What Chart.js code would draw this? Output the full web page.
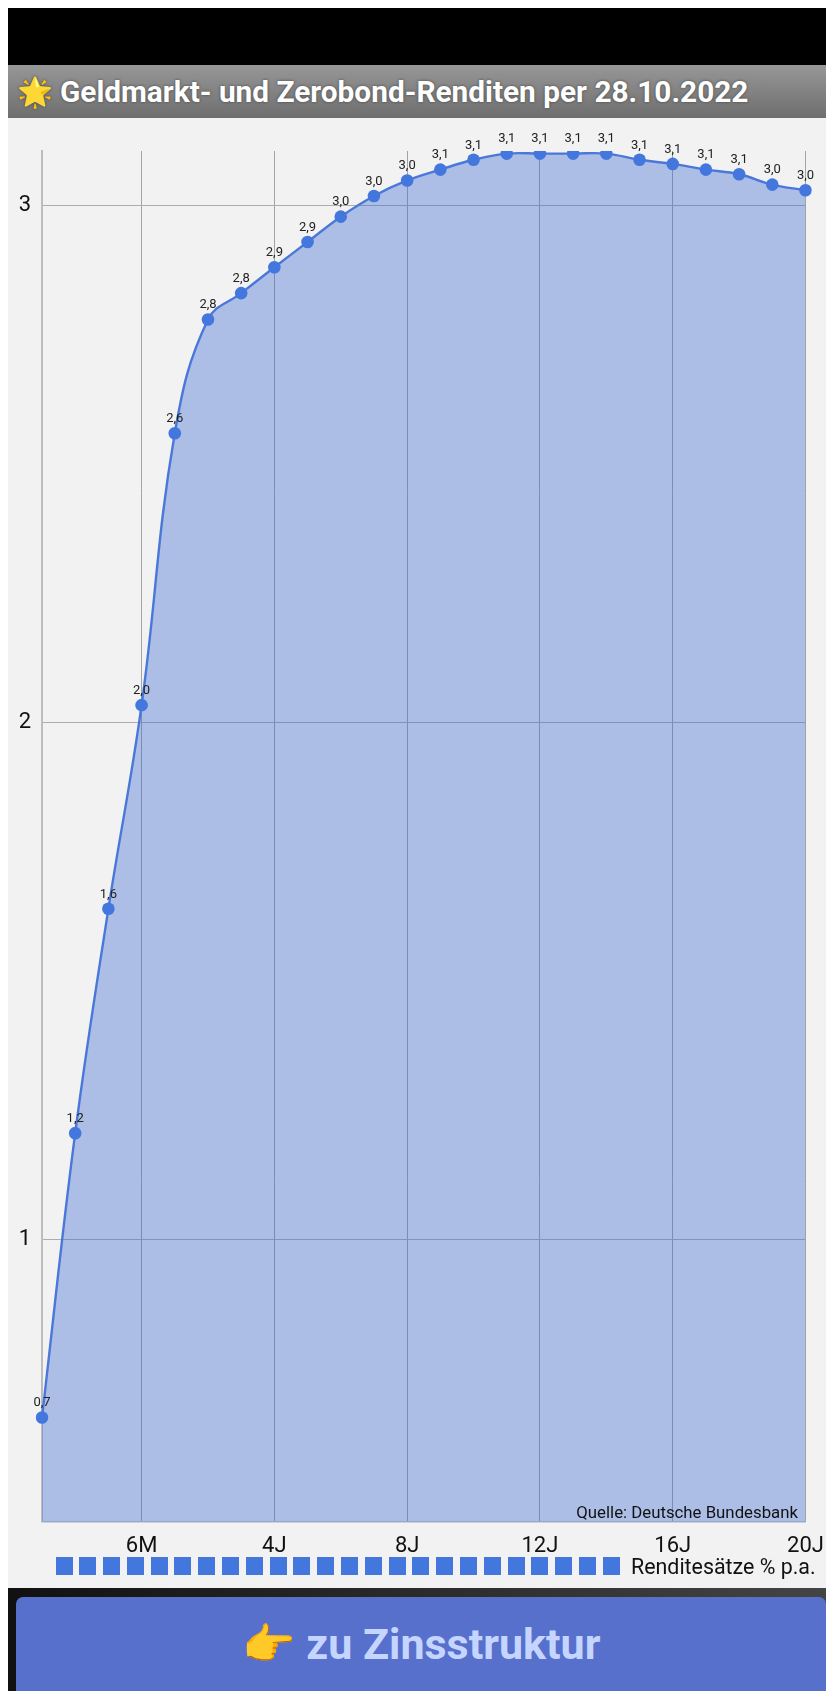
<!DOCTYPE html>
<html lang="de">
<head>
<meta charset="utf-8">
<title>Geldmarkt- und Zerobond-Renditen</title>
<script src="https://cdn.jsdelivr.net/npm/chart.js@4"></script>
<style>
    html, body { margin: 0; padding: 0; background: #fff; }
    body { position: relative; width: 826px; height: 1691px; overflow: hidden; font-family: Roboto, sans-serif; }
    .top-black { position: absolute; left: 8px; top: 8px; right: 0; height: 57px; background: #000; }
    .header { position: absolute; left: 8px; top: 65px; right: 0; height: 53px; background: linear-gradient(#979797, #6e6e6e);
        color: #fff; font-weight: 700; font-size: 29.8px; line-height: 54px; white-space: nowrap; text-shadow: 0 0 3px #444; }
    .header .emoji { position: absolute; left: 9px; top: 0; font-size: 29px; }
    .header .txt { position: absolute; left: 52px; top: 0; }
    .chart-box { position: absolute; left: 8px; top: 118px; width: 818px; height: 1470px; background: #f2f2f2; }
    canvas { display: block; }
    .source { position: absolute; right: 28px; top: 1383px; font-size: 16.8px; line-height: 22px; color: #111; white-space: nowrap; }
    .legend { position: absolute; left: 47.5px; top: 1439px; display: flex; gap: 6.8px; }
    .legend i { display: block; width: 17px; height: 18px; background: #4477dd; }
    .legend-text { position: absolute; left: 623px; top: 1437px; font-size: 21.4px; line-height: 24px; color: #111; white-space: nowrap; }
    .footer { position: absolute; left: 8px; top: 1588px; right: 0; bottom: 0; background: linear-gradient(90deg, #111, #444); }
    .btn-zins { position: absolute; left: 8px; top: 9px; right: 0; bottom: 0; background: #5670cc; border-radius: 7px 7px 0 0;
        color: #c5d5ff; font-weight: 700; font-size: 43px; text-align: center; line-height: 94px; white-space: nowrap; }
</style>
</head>
<body>
<div class="top-black"></div>
<div class="header"><span class="emoji">🌟</span><span class="txt">Geldmarkt- und Zerobond-Renditen per 28.10.2022</span></div>
<div class="chart-box">
    <canvas id="zinsChart" width="818" height="1470"></canvas>
    <div class="source">Quelle: Deutsche Bundesbank</div>
    <div class="legend" id="legend"></div>
    <div class="legend-text">Renditesätze % p.a.</div>
</div>
<div class="footer"><div class="btn-zins">👉 zu Zinsstruktur</div></div>

<script>
const laufzeiten = ['1W', '1M', '3M', '6M', '1J', '2J', '3J', '4J', '5J', '6J', '7J', '8J', '9J', '10J', '11J', '12J', '13J', '14J', '15J', '16J', '17J', '18J', '19J', '20J'];
const renditen = [0.656, 1.206, 1.64, 2.034, 2.56, 2.78, 2.831, 2.881, 2.93, 2.979, 3.019, 3.049, 3.07, 3.089, 3.101, 3.101, 3.101, 3.101, 3.089, 3.081, 3.07, 3.061, 3.041, 3.03];
const xBeschriftung = ['6M', '4J', '8J', '12J', '16J', '20J'];
const yBeschriftung = [1, 2, 3];
const serienName = 'Renditesätze % p.a.';

// Werte direkt über die Punkte schreiben
const punktLabels = {
    id: 'punktLabels',
    afterDatasetsDraw(chart) {
        const ctx = chart.ctx;
        const meta = chart.getDatasetMeta(0);
        ctx.save();
        ctx.font = '13px Roboto';
        ctx.fillStyle = '#222';
        ctx.textAlign = 'center';
        ctx.textBaseline = 'middle';
        meta.data.forEach((pt, i) => {
            ctx.fillText(renditen[i].toFixed(1).replace('.', ','), pt.x, pt.y - 14.5);
        });
        ctx.restore();
    }
};

const ctx = document.getElementById('zinsChart').getContext('2d');
new Chart(ctx, {
    type: 'line',
    data: {
        labels: laufzeiten,
        datasets: [{
            label: serienName,
            data: renditen,
            borderColor: '#4a78d8',
            borderWidth: 2.4,
            backgroundColor: 'rgba(60,105,210,0.38)',
            fill: 'start',
            tension: 0.4,
            pointRadius: 6.3,
            pointBackgroundColor: '#4477dd',
            pointBorderWidth: 0
        }]
    },
    options: {
        responsive: false,
        animation: false,
        layout: { padding: { top: 33, right: 20.5, bottom: 0, left: 0 } },
        plugins: { legend: { display: false }, tooltip: { enabled: false } },
        scales: {
            x: {
                afterFit(scale) { scale.height = 66.3; scale.paddingRight = 0; scale.paddingLeft = 0; },
                grid: {
                    drawTicks: false,
                    lineWidth: 1,
                    color: c => (c.tick && xBeschriftung.includes(c.tick.label) ? '#a4a4a4' : 'transparent')
                },
                border: { color: '#a8b2cc', width: 1.5 },
                ticks: {
                    autoSkip: false,
                    maxRotation: 0,
                    padding: 12,
                    color: '#111',
                    font: { family: 'Roboto', size: 22 },
                    callback(value) {
                        const l = this.getLabelForValue(value);
                        return xBeschriftung.includes(l) ? l : '';
                    }
                }
            },
            y: {
                min: 0.4544,
                max: 3.106,
                afterFit(scale) { scale.width = 34; },
                afterBuildTicks(scale) { scale.ticks = yBeschriftung.map(v => ({ value: v })); },
                grid: { drawTicks: false, color: '#adadad', lineWidth: 1 },
                border: { color: '#bdbdbd', width: 2 },
                ticks: {
                    padding: 11,
                    color: '#111',
                    font: { family: 'Roboto', size: 22 },
                    callback: v => String(v)
                }
            }
        }
    },
    plugins: [punktLabels]
});

// Legende: ein Kästchen je Laufzeit
const legend = document.getElementById('legend');
laufzeiten.forEach(() => legend.appendChild(document.createElement('i')));
</script>
</body>
</html>
